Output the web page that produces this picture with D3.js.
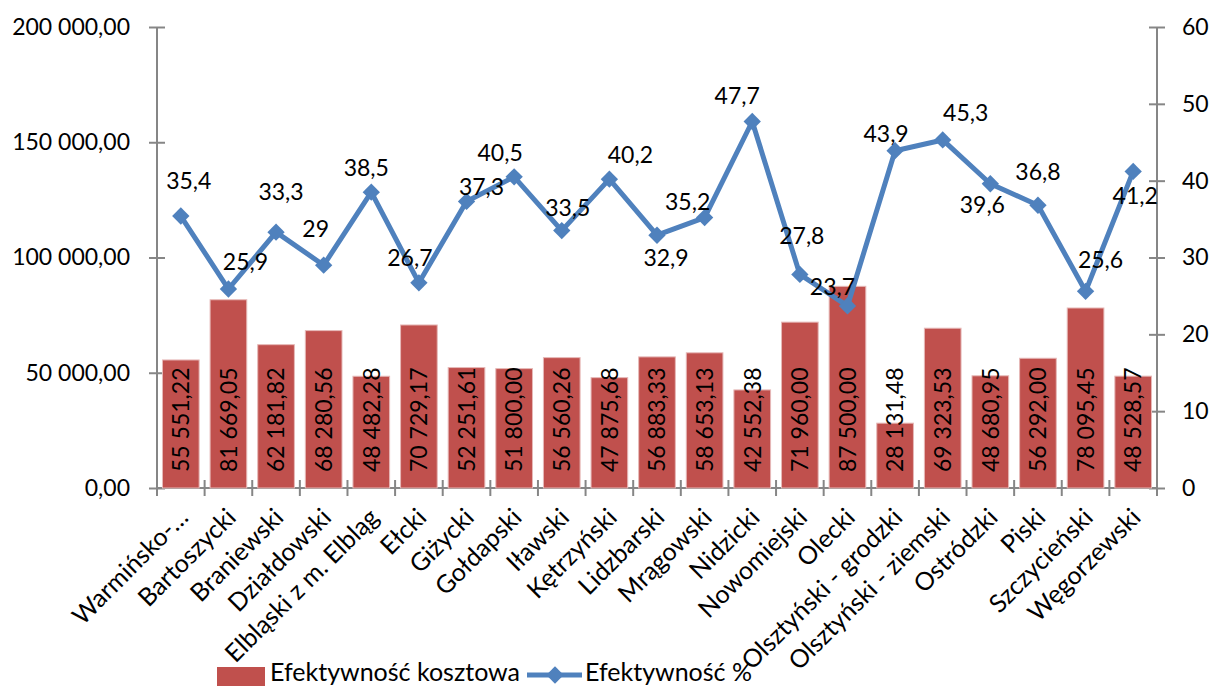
<!DOCTYPE html>
<html><head><meta charset="utf-8">
<script src="https://cdn.jsdelivr.net/npm/d3@7"></script>
<style>
html,body{margin:0;padding:0;background:#fff;}
svg{display:block;font-family:Lato,"Open Sans",sans-serif;}
</style></head>
<body>
<svg id="chart" width="1211" height="686"></svg>
<script>
const categories = ["Warmińsko-…","Bartoszycki","Braniewski","Działdowski","Elbląski z m. Elbląg","Ełcki","Giżycki","Gołdapski","Iławski","Kętrzyński","Lidzbarski","Mrągowski","Nidzicki","Nowomiejski","Olecki","Olsztyński - grodzki","Olsztyński - ziemski","Ostródzki","Piski","Szczycieński","Węgorzewski"];
const costValues = [55551.22,81669.05,62181.82,68280.56,48482.28,70729.17,52251.61,51800.00,56560.26,47875.68,56883.33,58653.13,42552.38,71960.00,87500.00,28131.48,69323.53,48680.95,56292.00,78095.45,48528.57];
const pctValues = [35.4,25.9,33.3,29,38.5,26.7,37.3,40.5,33.5,40.2,32.9,35.2,47.7,27.8,23.7,43.9,45.3,39.6,36.8,25.6,41.2];
const leftTicks = [0,50000,100000,150000,200000];
const rightTicks = [0,10,20,30,40,50,60];
const seriesNames = ["Efektywność kosztowa","Efektywność %"];
// label offsets (dx, dy) of the % labels relative to their points
const pctLabelOffsets = [[8,-35],[17,-27],[5,-40],[-8,-36],[-5,-24],[-9,-25],[15,-14],[-14,-24],[6,-23],[21,-24],[9,23],[-17,-16],[-15,-26],[2,-38],[-15,-19],[-9,-17],[23,-27],[-8,21],[0,-33],[15,-31],[2,25]];

const svg = d3.select("#chart");
const L = 157, R = 1157, T = 27, B = 488;
const fontSize = 23;
const textFontSize = 25;
const axisColor = "#868686";
const barColor = "#C0504D";
const lineColor = "#4F81BD";

const fmtPL = v => {
  const s = v.toFixed(2);
  let [i, f] = s.split(".");
  i = i.replace(/\B(?=(\d{3})+(?!\d))/g, " ");
  return i + "," + f;
};
const fmtPct = v => String(v).replace(".", ",");

const x = d3.scaleBand().domain(categories).range([L, R]).paddingInner(0.23).paddingOuter(0.115);
const xb = d3.scaleBand().domain(categories).range([L, R]);
const yL = d3.scaleLinear().domain([0, 200000]).range([B, T]);
const yR = d3.scaleLinear().domain([0, 60]).range([B, T]);

// axes
const gLeft = svg.append("g").attr("transform", `translate(${L},0)`)
  .call(d3.axisLeft(yL).tickValues(leftTicks).tickSize(8).tickFormat(fmtPL));
const gRight = svg.append("g").attr("transform", `translate(${R},0)`)
  .call(d3.axisRight(yR).tickValues(rightTicks).tickSize(8).tickFormat(d => d));
[gLeft, gRight].forEach(g => {
  g.select(".domain").attr("stroke", axisColor).attr("stroke-width", 2).attr("d", `M0,${T}V${B}`);
  g.selectAll(".tick line").attr("stroke", axisColor).attr("stroke-width", 2);
  g.selectAll(".tick text").attr("font-size", fontSize).attr("font-family", "Lato").attr("fill", "#000");
});
gLeft.selectAll(".tick line").attr("x1", 8).attr("x2", -8);
gLeft.selectAll(".tick text").attr("x", -27);
gRight.selectAll(".tick line").attr("x1", -8).attr("x2", 8);
gRight.selectAll(".tick text").attr("x", 25);

// x axis
const gx = svg.append("g");
gx.append("line").attr("x1", L).attr("x2", R).attr("y1", B).attr("y2", B).attr("stroke", axisColor).attr("stroke-width", 2);
const bounds = categories.map(c => xb(c)).concat([R]);
gx.selectAll("line.tk").data(bounds).join("line").attr("class","tk")
  .attr("x1", d => d).attr("x2", d => d).attr("y1", B - 8).attr("y2", B + 8)
  .attr("stroke", axisColor).attr("stroke-width", 2);
gx.selectAll("text").data(categories).join("text")
  .attr("transform", d => `translate(${xb(d) + xb.bandwidth()/2 + 9},${B + 31}) rotate(-45)`)
  .attr("text-anchor", "end").attr("font-size", textFontSize).attr("fill", "#000")
  .text(d => d);

// bars
svg.append("g").selectAll("rect").data(costValues).join("rect")
  .attr("x", (d, i) => x(categories[i]))
  .attr("width", x.bandwidth())
  .attr("y", d => yL(d))
  .attr("height", d => B - yL(d))
  .attr("fill", barColor)
  .attr("stroke", "#E6B9B8").attr("stroke-width", 1);

// bar labels
svg.append("g").selectAll("text").data(costValues).join("text")
  .attr("transform", (d, i) => `translate(${xb(categories[i]) + xb.bandwidth()/2},${B - 16}) rotate(-90)`)
  .attr("dy", "0.36em")
  .attr("text-anchor", "start").attr("font-size", fontSize).attr("fill", "#000")
  .text(d => fmtPL(d));

// line
const cx = i => xb(categories[i]) + xb.bandwidth()/2;
const line = d3.line().x((d, i) => cx(i)).y(d => yR(d));
svg.append("path").datum(pctValues).attr("d", line)
  .attr("fill", "none").attr("stroke", lineColor).attr("stroke-width", 5).attr("stroke-linejoin", "round");
const diamond = d3.symbol(d3.symbolSquare, 150);
svg.append("g").selectAll("path").data(pctValues).join("path")
  .attr("d", diamond)
  .attr("transform", (d, i) => `translate(${cx(i)},${yR(d)}) rotate(45)`)
  .attr("fill", lineColor);

// % labels
svg.append("g").selectAll("text").data(pctValues).join("text")
  .attr("x", (d, i) => cx(i) + pctLabelOffsets[i][0])
  .attr("y", (d, i) => yR(d) + pctLabelOffsets[i][1] + 8)
  .attr("text-anchor", "middle").attr("font-size", fontSize).attr("fill", "#000")
  .text(d => fmtPct(d));

// legend
const lg = svg.append("g");
lg.append("rect").attr("x", 217).attr("y", 667).attr("width", 48).attr("height", 22).attr("fill", barColor);
lg.append("text").attr("x", 270).attr("y", 681).attr("font-size", textFontSize).attr("fill", "#000").text(seriesNames[0]);
lg.append("line").attr("x1", 527).attr("x2", 582).attr("y1", 675).attr("y2", 675).attr("stroke", lineColor).attr("stroke-width", 5);
lg.append("path").attr("d", diamond).attr("transform", "translate(555,675) rotate(45)").attr("fill", lineColor);
lg.append("text").attr("x", 585).attr("y", 681).attr("font-size", textFontSize).attr("fill", "#000").text(seriesNames[1]);
</script>
</body></html>
